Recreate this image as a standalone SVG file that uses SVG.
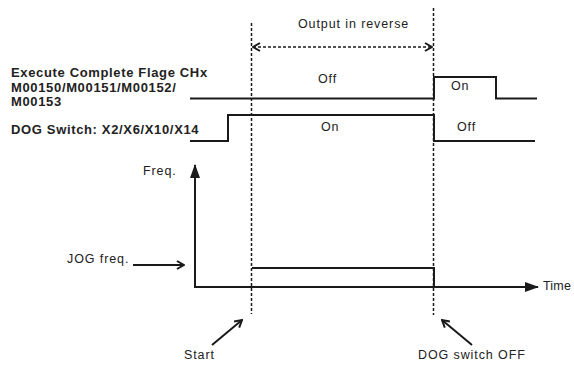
<svg xmlns="http://www.w3.org/2000/svg" width="574" height="365" viewBox="0 0 574 365">
<defs>
<style>
.lbl{font-family:"Liberation Sans",Arial,sans-serif;font-size:13px;font-weight:bold;letter-spacing:0.65px;fill:#222}
.t{font-family:"Liberation Sans",Arial,sans-serif;font-size:12.5px;letter-spacing:0.9px;fill:#222}
.sig{fill:none;stroke:#1a1a1a;stroke-width:2}
.dash{fill:none;stroke:#1a1a1a;stroke-width:1.5;stroke-dasharray:3,2}
.ax{fill:none;stroke:#1a1a1a;stroke-width:2}
.ptr{fill:none;stroke:#1a1a1a;stroke-width:2}
</style>
<marker id="chev" viewBox="0 0 10 10" refX="9" refY="5" markerWidth="10" markerHeight="10" markerUnits="userSpaceOnUse" orient="auto-start-reverse">
<path d="M2,1 L9,5 L2,9" fill="none" stroke="#1a1a1a" stroke-width="2"/>
</marker>
<marker id="tri" viewBox="0 0 14 10" refX="13" refY="5" markerWidth="14" markerHeight="10" markerUnits="userSpaceOnUse" orient="auto">
<path d="M0,0 L14,5 L0,10 Z" fill="#1a1a1a"/>
</marker>
</defs>
<rect width="574" height="365" fill="#fff"/>
<g id="labels">
<text class="lbl" x="11" y="77">Execute Complete Flage CHx</text>
<text class="lbl" x="11" y="92">M00150/M00151/M00152/</text>
<text class="lbl" x="11" y="106">M00153</text>
<text class="lbl" x="11" y="134">DOG Switch: X2/X6/X10/X14</text>
</g>
<g id="connectors">
<line class="dash" x1="251.5" y1="23" x2="251.5" y2="314"/>
<line class="dash" x1="433.5" y1="8" x2="433.5" y2="315"/>
<line class="dash" x1="253" y1="47" x2="432" y2="47" marker-start="url(#chev)" marker-end="url(#chev)"/>
<line class="ax" x1="195" y1="287" x2="195" y2="165" marker-end="url(#tri)"/>
<line class="ax" x1="194" y1="287" x2="538" y2="287" marker-end="url(#tri)"/>
<line class="ptr" x1="133" y1="265" x2="184" y2="265" marker-end="url(#chev)"/>
<line class="ptr" x1="212" y1="345" x2="242" y2="320" marker-end="url(#chev)"/>
<line class="ptr" x1="472" y1="345" x2="442" y2="320" marker-end="url(#chev)"/>
</g>
<g id="execute-signal">
<polyline class="sig" points="190,98.5 434,98.5 434,77 496,77 496,98.5 537,98.5"/>
<text class="t" x="318" y="83">Off</text>
<text class="t" x="451" y="90">On</text>
</g>
<g id="dog-signal">
<polyline class="sig" points="190,141 228,141 228,115 434,115 434,141 535,141"/>
<text class="t" x="321" y="131">On</text>
<text class="t" x="457" y="131">Off</text>
</g>
<g id="jog-freq">
<polyline class="sig" points="252,268 434,268 434,287"/>
</g>
<g id="texts">
<text class="t" x="298" y="28">Output in reverse</text>
<text class="t" x="143" y="175">Freq.</text>
<text class="t" x="543" y="290" style="letter-spacing:0.2px">Time</text>
<text class="t" x="67" y="263">JOG freq.</text>
<text class="t" x="184" y="359">Start</text>
<text class="t" x="418" y="359">DOG switch OFF</text>
</g>
</svg>
